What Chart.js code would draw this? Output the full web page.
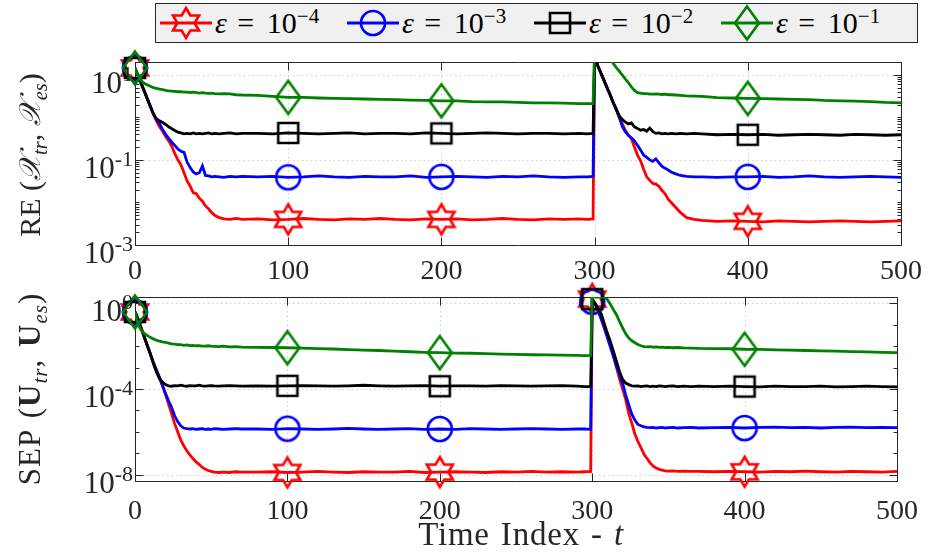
<!DOCTYPE html>
<html lang="en">
<head>
<meta charset="UTF-8">
<title>RE and SEP over time</title>
<script src="https://cdn.jsdelivr.net/npm/chart.js"></script>
<style>
  body { margin: 0; background: #fff; font-family: "Liberation Serif", serif; color: #262626; }
  #wrap { position: relative; width: 932px; height: 556px; overflow: hidden; }
  canvas.plot { position: absolute; left: 0; }
  #reChart { top: 0; }
  #sepChart { top: 262px; }
  .legend {
    position: absolute; left: 155px; top: 3px; width: 763px; height: 40px;
    box-sizing: border-box; background: #f0f0f0; border: 1px solid #262626;
    font-family: "Liberation Serif", serif; font-size: 30px; color: #000; z-index: 2;
  }
  .legend .item { position: absolute; top: 0; height: 38px; display: flex; align-items: center; white-space: nowrap; }
  .legend .item canvas { display: block; }
  .legend .eq { display: inline-block; width: 24px; text-align: center; margin: 0 9px 0 7px; }
  sup { font-size: 0.7em; vertical-align: 0.5em; line-height: 0; }
  sub { font-size: 0.68em; font-style: italic; vertical-align: -0.35em; line-height: 0; }
  .ytitle {
    position: absolute; transform: translate(-50%, -50%) rotate(-90deg);
    white-space: nowrap; font-size: 30px; color: #262626; z-index: 2;
  }
  .cal { font-family: "DejaVu Serif", "DejaVu Sans", serif; font-style: italic; }
  .xtitle {
    position: absolute; left: 521px; top: 534px; transform: translate(-50%, -50%);
    font-size: 33px; letter-spacing: 0.8px; word-spacing: 2px; white-space: nowrap; color: #262626;
  }
</style>
</head>
<body>
<div id="wrap">
  <canvas id="reChart" class="plot" width="932" height="290"></canvas>
  <canvas id="sepChart" class="plot" width="932" height="294"></canvas>
  <div class="legend" id="legend"></div>
  <div class="ytitle" style="left:30px; top:155px;">RE (<span class="cal">𝒳</span><sub>tr</sub>, <span class="cal">𝒳</span><sub>es</sub>)</div>
  <div class="ytitle" style="left:30px; top:389px; font-size:31px; letter-spacing:1px; word-spacing:3px;">SEP (<b>U</b><sub>tr</sub>, <b>U</b><sub>es</sub>)</div>
  <div class="xtitle">Time Index - <i>t</i></div>
</div>

<script>
  // time index samples (denser where the curves move)
  const T = [
    0, 1, 2, 3, 4, 5, 6, 8, 10, 12, 14, 16, 18, 20, 22, 24, 26, 28, 30, 32,
    34, 36, 38, 40, 42, 44, 46, 48, 50, 52, 55, 58, 62, 66, 70,
    80, 90, 100, 110, 120, 130, 140, 150, 160, 170, 180, 190, 200, 210, 220, 230, 240, 250, 260, 270, 280, 290,
    295, 299,
    300, 302, 304, 306, 308, 310, 312, 314, 316, 318, 320, 322, 324, 326, 328, 330, 332, 334, 336, 338,
    340, 342, 344, 346, 348, 350, 353, 356, 360, 365, 370,
    380, 390, 400, 410, 420, 430, 440, 450, 460, 470, 480, 490, 500
  ];

  // RE(X_tr, X_es), one array per epsilon
  const RE_EPS4 = [
    14.5, 11.7, 9.5, 7.8, 6.3, 5.1, 4.2, 2.75, 1.82, 1.2, 0.83, 0.60, 0.47, 0.355, 0.28, 0.21, 0.14, 0.10, 0.076, 0.050,
    0.032, 0.024, 0.017, 0.016, 0.0126, 0.0107, 0.0083, 0.0071, 0.0058, 0.0050, 0.0044, 0.0041, 0.0040, 0.0042, 0.0040,
    0.0041, 0.0039, 0.0040, 0.0042, 0.0040, 0.0039, 0.0041, 0.0040, 0.0042, 0.0040, 0.0039, 0.0041, 0.0040, 0.0041, 0.0039, 0.0040, 0.0042, 0.0040, 0.0039, 0.0041, 0.0040, 0.0041,
    0.0040, 0.0041,
    28, 16.6, 11.2, 7.6, 5.1, 3.5, 2.3, 1.58, 1.0, 0.71, 0.50, 0.38, 0.32, 0.20, 0.13, 0.095, 0.060, 0.040, 0.033, 0.028,
    0.027, 0.024, 0.019, 0.016, 0.012, 0.010, 0.0076, 0.0058, 0.0044, 0.0040, 0.0038,
    0.0036, 0.0037, 0.0036, 0.0035, 0.0037, 0.0036, 0.0035, 0.0036, 0.0037, 0.0036, 0.0035, 0.0036, 0.0037
  ];
  const RE_EPS3 = [
    14.5, 11.7, 9.5, 7.8, 6.3, 5.1, 4.2, 2.75, 1.82, 1.2, 0.89, 0.71, 0.52, 0.40, 0.32, 0.26, 0.22, 0.18, 0.16, 0.15,
    0.089, 0.066, 0.052, 0.047, 0.050, 0.072, 0.043, 0.042, 0.040, 0.041, 0.040, 0.039, 0.041, 0.040, 0.041,
    0.040, 0.041, 0.039, 0.040, 0.042, 0.040, 0.039, 0.041, 0.040, 0.040, 0.042, 0.039, 0.040, 0.041, 0.040, 0.039, 0.041, 0.040, 0.042, 0.040, 0.039, 0.040,
    0.040, 0.041,
    28, 16.6, 11.2, 7.6, 5.1, 3.5, 2.3, 1.58, 1.05, 0.62, 0.46, 0.38, 0.33, 0.28, 0.22, 0.17, 0.13, 0.115, 0.10, 0.092,
    0.105, 0.085, 0.070, 0.064, 0.058, 0.052, 0.047, 0.043, 0.041, 0.040, 0.040,
    0.039, 0.040, 0.040, 0.041, 0.039, 0.040, 0.042, 0.040, 0.039, 0.040, 0.041, 0.040, 0.039
  ];
  const RE_EPS2 = [
    14.5, 11.7, 9.5, 7.8, 6.3, 5.1, 4.2, 2.75, 1.82, 1.2, 0.93, 0.83, 0.76, 0.68, 0.60, 0.54, 0.49, 0.45, 0.43, 0.41,
    0.42, 0.41, 0.43, 0.41, 0.42, 0.41, 0.42, 0.43, 0.41, 0.42, 0.41, 0.42, 0.43, 0.41, 0.42,
    0.42, 0.41, 0.43, 0.42, 0.41, 0.42, 0.43, 0.41, 0.42, 0.42, 0.41, 0.43, 0.42, 0.41, 0.42, 0.43, 0.42, 0.41, 0.42, 0.42, 0.41, 0.42,
    0.41, 0.42,
    28, 16.6, 11.2, 7.6, 5.1, 3.5, 2.3, 1.58, 1.1, 0.90, 0.78, 0.70, 0.74, 0.60, 0.55, 0.50, 0.52, 0.47, 0.56, 0.46,
    0.42, 0.43, 0.41, 0.42, 0.41, 0.42, 0.41, 0.42, 0.41, 0.42, 0.41,
    0.39, 0.40, 0.39, 0.40, 0.38, 0.39, 0.40, 0.39, 0.38, 0.40, 0.39, 0.38, 0.39
  ];
  const RE_EPS1 = [
    14.5, 11.2, 9.6, 8.5, 7.5, 6.8, 6.3, 5.8, 5.4, 5.0, 4.8, 4.6, 4.5, 4.3, 4.2, 4.15, 4.1, 4.0, 4.0, 3.9,
    3.9, 3.8, 3.9, 3.8, 3.7, 3.8, 3.7, 3.65, 3.7, 3.6, 3.55, 3.6, 3.55, 3.4, 3.35,
    3.3, 3.1, 2.95, 2.95, 2.85, 2.8, 2.75, 2.7, 2.65, 2.6, 2.55, 2.5, 2.45, 2.45, 2.35, 2.3, 2.3, 2.25, 2.2, 2.2, 2.15, 2.1,
    2.1, 2.1,
    40, 40, 38, 35, 30, 24, 19, 15, 12.4, 10, 8.0, 6.6, 5.2, 4.3, 3.8, 3.7, 3.6, 3.6, 3.5, 3.5,
    3.55, 3.5, 3.45, 3.5, 3.4, 3.4, 3.35, 3.3, 3.2, 3.15, 3.1,
    2.9, 2.85, 2.8, 2.75, 2.7, 2.65, 2.6, 2.5, 2.45, 2.4, 2.35, 2.25, 2.2
  ];

  // SEP(U_tr, U_es), one array per epsilon
  const SEP_EPS4 = [
    0.40, 0.28, 0.18, 0.11, 0.071, 0.045, 0.028, 0.011, 4.5e-3, 1.8e-3, 7.9e-4, 3.5e-4, 1.4e-4, 5.6e-5, 2.0e-5, 7.1e-6, 2.4e-6, 1.0e-6, 4.2e-7, 2.2e-7,
    1.3e-7, 8.3e-8, 5.6e-8, 4.0e-8, 3.0e-8, 2.2e-8, 1.8e-8, 1.55e-8, 1.4e-8, 1.3e-8, 1.25e-8, 1.3e-8, 1.25e-8, 1.35e-8, 1.3e-8,
    1.3e-8, 1.35e-8, 1.25e-8, 1.3e-8, 1.4e-8, 1.3e-8, 1.25e-8, 1.35e-8, 1.3e-8, 1.3e-8, 1.4e-8, 1.25e-8, 1.3e-8, 1.35e-8, 1.3e-8, 1.25e-8, 1.35e-8, 1.3e-8, 1.4e-8, 1.3e-8, 1.35e-8, 1.3e-8,
    1.35e-8, 1.4e-8,
    1.6, 1.0, 0.45, 0.18, 0.071, 0.028, 0.011, 3.5e-3, 1.0e-3, 2.8e-4, 1.0e-4, 3.2e-5, 7.1e-6, 2.5e-6, 7.9e-7, 3.5e-7, 1.8e-7, 8.9e-8, 5.6e-8, 3.5e-8,
    2.5e-8, 2.0e-8, 1.75e-8, 1.6e-8, 1.5e-8, 1.45e-8, 1.5e-8, 1.4e-8, 1.45e-8, 1.4e-8, 1.4e-8,
    1.35e-8, 1.4e-8, 1.35e-8, 1.3e-8, 1.4e-8, 1.35e-8, 1.45e-8, 1.35e-8, 1.3e-8, 1.4e-8, 1.35e-8, 1.3e-8, 1.4e-8
  ];
  const SEP_EPS3 = [
    0.40, 0.28, 0.18, 0.11, 0.071, 0.045, 0.028, 0.011, 4.5e-3, 1.8e-3, 7.9e-4, 3.5e-4, 1.5e-4, 6.3e-5, 2.8e-5, 1.4e-5, 5.6e-6, 3.0e-6, 1.9e-6, 1.5e-6,
    1.4e-6, 1.35e-6, 1.4e-6, 1.3e-6, 1.35e-6, 1.4e-6, 1.3e-6, 1.35e-6, 1.3e-6, 1.4e-6, 1.35e-6, 1.3e-6, 1.35e-6, 1.4e-6, 1.35e-6,
    1.35e-6, 1.3e-6, 1.4e-6, 1.35e-6, 1.3e-6, 1.35e-6, 1.45e-6, 1.35e-6, 1.3e-6, 1.35e-6, 1.4e-6, 1.3e-6, 1.35e-6, 1.3e-6, 1.4e-6, 1.35e-6, 1.3e-6, 1.35e-6, 1.4e-6, 1.35e-6, 1.3e-6, 1.35e-6,
    1.35e-6, 1.3e-6,
    1.2, 0.9, 0.45, 0.18, 0.071, 0.025, 8.9e-3, 3.2e-3, 1.1e-3, 4.5e-4, 1.8e-4, 5.2e-5, 1.8e-5, 6.6e-6, 3.5e-6, 2.2e-6, 1.9e-6, 1.7e-6, 1.6e-6, 1.55e-6,
    1.6e-6, 1.5e-6, 1.55e-6, 1.6e-6, 1.5e-6, 1.55e-6, 1.6e-6, 1.5e-6, 1.55e-6, 1.6e-6, 1.5e-6,
    1.55e-6, 1.6e-6, 1.5e-6, 1.6e-6, 1.65e-6, 1.55e-6, 1.6e-6, 1.5e-6, 1.6e-6, 1.65e-6, 1.55e-6, 1.6e-6, 1.55e-6
  ];
  const SEP_EPS2 = [
    0.40, 0.28, 0.18, 0.11, 0.071, 0.045, 0.028, 0.011, 4.5e-3, 1.6e-3, 6.3e-4, 3.2e-4, 2.1e-4, 1.6e-4, 1.4e-4, 1.35e-4, 1.45e-4, 1.4e-4, 1.5e-4, 1.4e-4,
    1.35e-4, 1.45e-4, 1.4e-4, 1.4e-4, 1.5e-4, 1.4e-4, 1.35e-4, 1.4e-4, 1.45e-4, 1.4e-4, 1.35e-4, 1.4e-4, 1.45e-4, 1.4e-4, 1.35e-4,
    1.4e-4, 1.35e-4, 1.4e-4, 1.45e-4, 1.4e-4, 1.35e-4, 1.4e-4, 1.5e-4, 1.4e-4, 1.35e-4, 1.4e-4, 1.45e-4, 1.35e-4, 1.4e-4, 1.4e-4, 1.35e-4, 1.45e-4, 1.4e-4, 1.35e-4, 1.4e-4, 1.45e-4, 1.35e-4,
    1.3e-4, 1.3e-4,
    1.6, 1.0, 0.56, 0.32, 0.11, 0.040, 0.016, 5.6e-3, 1.9e-3, 6.3e-4, 2.8e-4, 1.9e-4, 1.6e-4, 1.4e-4, 1.35e-4, 1.4e-4, 1.3e-4, 1.35e-4, 1.4e-4, 1.3e-4,
    1.35e-4, 1.3e-4, 1.4e-4, 1.35e-4, 1.3e-4, 1.35e-4, 1.4e-4, 1.3e-4, 1.35e-4, 1.3e-4, 1.35e-4,
    1.3e-4, 1.35e-4, 1.3e-4, 1.25e-4, 1.35e-4, 1.3e-4, 1.3e-4, 1.35e-4, 1.25e-4, 1.3e-4, 1.35e-4, 1.3e-4, 1.25e-4
  ];
  const SEP_EPS1 = [
    0.40, 0.20, 0.11, 0.079, 0.056, 0.047, 0.040, 0.032, 0.026, 0.022, 0.019, 0.0175, 0.016, 0.015, 0.014, 0.013, 0.0125, 0.012, 0.012, 0.011,
    0.0115, 0.0107, 0.011, 0.0105, 0.0107, 0.010, 0.010, 0.0105, 0.010, 0.0098, 0.0095, 0.010, 0.0093, 0.0095, 0.0091,
    0.0089, 0.0087, 0.0085, 0.0081, 0.0078, 0.0074, 0.0069, 0.0066, 0.0063, 0.0059, 0.0055, 0.0052, 0.0050, 0.0048, 0.0047, 0.0045, 0.0043, 0.0042, 0.0040, 0.0039, 0.0038, 0.0037,
    0.0036, 0.0037,
    2.3, 2.0, 2.0, 2.0, 2.0, 1.5, 0.89, 0.50, 0.29, 0.14, 0.071, 0.038, 0.024, 0.018, 0.0145, 0.012, 0.0105, 0.0095, 0.0093, 0.0095,
    0.0091, 0.0093, 0.0089, 0.0091, 0.0087, 0.0089, 0.0085, 0.0087, 0.0083, 0.0081, 0.0079,
    0.0078, 0.0076, 0.0072, 0.0071, 0.0068, 0.0066, 0.0063, 0.0060, 0.0059, 0.0056, 0.0054, 0.0052, 0.0050
  ];

  const X_TICKS = [0, 100, 200, 300, 400, 500];
  const MARK_T = [0, 100, 200, 300, 400];
  const RE_TICKS = [1e1, 1e-1, 1e-3];
  const RE_EXP = ['1', '-1', '-3'];
  const SEP_TICKS = [1e0, 1e-4, 1e-8];
  const SEP_EXP = ['0', '-4', '-8'];
  const EPS_EXP = ['\u22124', '\u22123', '\u22122', '\u22121'];
  const COLORS = ['#ff0000', '#0000ff', '#000000', '#008000'];
  const SHAPES = ['hexagram', 'circle', 'square', 'diamond'];

  const FONT = '"Liberation Serif", serif';
  const INK = '#262626';
  const LW = 2.8;

  function makeMarker(shape, color) {
    const c = document.createElement('canvas');
    c.width = 40; c.height = 40;
    const g = c.getContext('2d');
    g.strokeStyle = color;
    g.lineWidth = 2.6;
    g.beginPath();
    if (shape === 'hexagram') {
      const R = 15, r = R / Math.sqrt(3);
      for (let k = 0; k < 12; k++) {
        const a = -Math.PI / 2 + k * Math.PI / 6;
        const rr = k % 2 ? r : R;
        const px = 20 + rr * Math.cos(a), py = 20 + rr * Math.sin(a);
        if (k) g.lineTo(px, py); else g.moveTo(px, py);
      }
      g.closePath();
    } else if (shape === 'circle') {
      g.arc(20, 20, 12, 0, 2 * Math.PI);
    } else if (shape === 'square') {
      g.rect(10, 10, 20, 20);
    } else {
      g.moveTo(20, 3.5); g.lineTo(32, 20); g.lineTo(20, 36.5); g.lineTo(8, 20); g.closePath();
    }
    g.stroke();
    return c;
  }

  const markers = SHAPES.map((s, i) => makeMarker(s, COLORS[i]));

  // legend (html, so the exponents stay real text)
  const legend = document.getElementById('legend');
  EPS_EXP.forEach((e, i) => {
    const item = document.createElement('div');
    item.className = 'item';
    item.style.left = (3 + i * 187) + 'px';
    const c = document.createElement('canvas');
    c.width = 54; c.height = 38;
    const g = c.getContext('2d');
    g.strokeStyle = COLORS[i]; g.lineWidth = LW;
    g.beginPath(); g.moveTo(1, 19); g.lineTo(53, 19); g.stroke();
    g.drawImage(markers[i], 7, -1);
    item.appendChild(c);
    const txt = document.createElement('span');
    txt.style.marginLeft = '2px';
    txt.innerHTML = '<i>\u03B5</i><span class="eq">=</span>10<sup>' + e + '</sup>';
    item.appendChild(txt);
    legend.appendChild(item);
  });

  function frame(ticks, exps, minor) {
    return {
      id: 'frame',
      beforeDatasetsDraw(chart) {
        const { ctx, chartArea: a, scales: { x, y } } = chart;
        const L = Math.round(a.left) + 0.5, R = Math.round(a.right) + 0.5;
        const Tp = Math.round(a.top) + 0.5, B = Math.round(a.bottom) + 0.5;
        ctx.save();
        ctx.lineWidth = 1;
        // dotted grid
        ctx.strokeStyle = '#cfcfcf';
        ctx.setLineDash([1.5, 3]);
        ctx.beginPath();
        X_TICKS.forEach(v => {
          const px = Math.round(x.getPixelForValue(v)) + 0.5;
          if (px > L + 1 && px < R - 1) { ctx.moveTo(px, Tp); ctx.lineTo(px, B); }
        });
        ticks.forEach(v => {
          const py = Math.round(y.getPixelForValue(v)) + 0.5;
          if (py > Tp + 1 && py < B - 1) { ctx.moveTo(L, py); ctx.lineTo(R, py); }
        });
        ctx.stroke();
        ctx.setLineDash([]);
        // box and inward ticks
        ctx.strokeStyle = INK;
        ctx.beginPath();
        ctx.rect(L, Tp, R - L, B - Tp);
        X_TICKS.forEach(v => {
          const px = Math.round(x.getPixelForValue(v)) + 0.5;
          ctx.moveTo(px, B); ctx.lineTo(px, B - 8);
          ctx.moveTo(px, Tp); ctx.lineTo(px, Tp + 8);
        });
        const isMajor = v => ticks.some(t => Math.abs(Math.log10(v / t)) < 1e-6);
        const lo = Math.floor(Math.log10(y.min)), hi = Math.ceil(Math.log10(y.max));
        for (let e = lo; e <= hi; e++) {
          minor.forEach(k => {
            const v = k * Math.pow(10, e);
            if (v < y.min || v > y.max) return;
            const len = isMajor(v) ? 8 : 4;
            const py = Math.round(y.getPixelForValue(v)) + 0.5;
            ctx.moveTo(L, py); ctx.lineTo(L + len, py);
            ctx.moveTo(R, py); ctx.lineTo(R - len, py);
          });
        }
        ctx.stroke();
        ctx.restore();
      },
      afterDraw(chart) {
        // y tick labels as 10 with a raised exponent
        const { ctx, chartArea: a, scales: { y } } = chart;
        ctx.save();
        ctx.fillStyle = INK;
        ctx.textBaseline = 'alphabetic';
        ticks.forEach((v, i) => {
          const py = y.getPixelForValue(v);
          ctx.font = '31px ' + FONT;
          const wb = ctx.measureText('10').width;
          ctx.font = '22px ' + FONT;
          const we = ctx.measureText(exps[i]).width;
          const right = a.left - 2;
          ctx.font = '31px ' + FONT;
          ctx.fillText('10', right - we - wb, py + 18);
          ctx.font = '22px ' + FONT;
          ctx.fillText(exps[i], right - we, py + 6);
        });
        ctx.restore();
      }
    };
  }

  function buildDatasets(series, ymax) {
    const ds = [];
    series.forEach((vals, k) => {
      const order = (series.length - k) * 2;
      ds.push({
        data: T.map((t, i) => ({ x: t, y: vals[i] })),
        borderColor: COLORS[k],
        borderWidth: LW,
        pointRadius: 0,
        order: order
      });
      ds.push({
        data: T.map((t, i) => ({ x: t, y: vals[i] }))
          .filter(p => MARK_T.includes(p.x) && p.y <= ymax),
        showLine: false,
        pointStyle: markers[k],
        pointRadius: 10,
        clip: false,
        order: order - 1
      });
    });
    return ds;
  }

  function makeChart(id, series, ymin, ymax, ticks, exps, minor, padTop, xHeight, tickPad) {
    return new Chart(document.getElementById(id), {
      type: 'line',
      data: { datasets: buildDatasets(series, ymax) },
      options: {
        responsive: false,
        animation: false,
        devicePixelRatio: 1,
        events: [],
        layout: { padding: { left: 0, right: 25, top: padTop, bottom: 0 } },
        plugins: { legend: { display: false }, tooltip: { enabled: false } },
        scales: {
          x: {
            type: 'linear', min: 0, max: 500,
            afterFit(s) { s.height = xHeight; },
            afterBuildTicks(s) { s.ticks = X_TICKS.map(v => ({ value: v })); },
            grid: { display: false, drawTicks: false },
            border: { display: false },
            ticks: { padding: tickPad, color: INK, maxRotation: 0, autoSkip: false, font: { family: FONT, size: 28 } }
          },
          y: {
            type: 'logarithmic', min: ymin, max: ymax,
            afterFit(s) { s.width = 135; },
            grid: { display: false },
            border: { display: false },
            ticks: { display: false }
          }
        }
      },
      plugins: [frame(ticks, exps, minor)]
    });
  }

  makeChart('reChart', [RE_EPS4, RE_EPS3, RE_EPS2, RE_EPS1], 1e-3, 20,
    RE_TICKS, RE_EXP, [1, 2, 3, 4, 5, 6, 7, 8, 9], 62, 45, 10);
  makeChart('sepChart', [SEP_EPS4, SEP_EPS3, SEP_EPS2, SEP_EPS1], 5e-9, 2,
    SEP_TICKS, SEP_EXP, [1], 35, 75, 14);
</script>
</body>
</html>
